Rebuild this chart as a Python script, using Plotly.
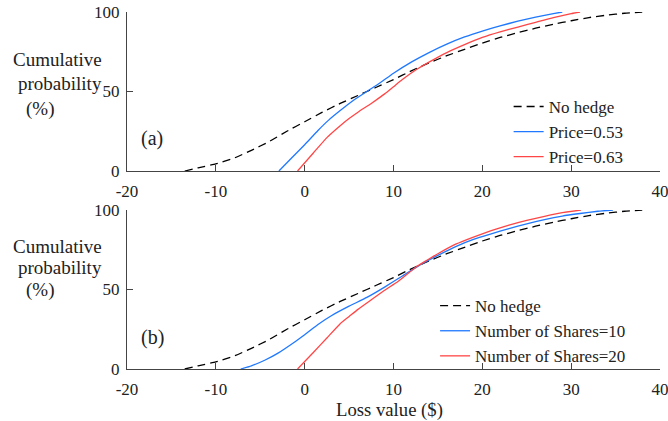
import plotly.graph_objects as go

# ---- data ----
nohedge_x = [-13.5, -12, -10, -8, -6, -4, -2, 0, 2, 4, 6, 8, 10, 12, 14, 16, 18, 20, 22, 24, 26, 28, 30, 32, 34, 36, 38]
nohedge_y = [0, 2, 4.5, 8, 13, 18.5, 25, 31, 37, 42.5, 47.5, 52.5, 57.5, 63, 68, 72.5, 76.5, 80.5, 84, 87, 89.8, 92.3, 94.5, 96.5, 98, 99.2, 100]

p053_x = [-2.9, -1.5, 0, 1.5, 2.7, 4, 5.5, 7, 8.5, 10, 12, 14, 16, 18, 20, 22, 24, 26, 28, 29]
p053_y = [0, 8, 16.5, 25.5, 32, 38, 44.5, 50, 55.5, 61.5, 68.5, 74.5, 79.8, 84.3, 88, 91.3, 94.2, 96.8, 99, 100]

p063_x = [-0.8, 1, 2.5, 4, 5, 6, 7.5, 9, 10, 11, 12.5, 14, 16, 18, 20, 22, 24, 26, 28, 30, 31]
p063_y = [0, 11.5, 21, 28.5, 33, 37, 42.5, 48.5, 53, 57.5, 63.5, 68.5, 74.5, 79.5, 84, 87.5, 90.5, 93.5, 96.5, 99, 100]

s10_x = [-7.2, -6, -4.5, -3, -1, 0, 1.5, 3, 5, 7, 9, 11, 13, 15, 17, 19, 21, 23, 25, 27, 29, 31, 33, 34.7]
s10_y = [0, 2, 5.5, 10, 17.5, 21.5, 28, 33.5, 39.5, 45, 51.5, 58.5, 65.5, 71.5, 77, 81.5, 85, 88.3, 91.3, 94, 96.2, 97.8, 99.2, 100]

s20_x = [-0.8, 1, 2.5, 4, 5, 6, 7.5, 9, 10.5, 12.5, 13.5, 15, 17, 19, 21, 23, 25, 27, 29, 31.1]
s20_y = [0, 10.5, 19.5, 28.5, 33, 37.5, 43.5, 49.5, 55, 64, 67.5, 72.5, 78.5, 83, 87, 90.5, 93.5, 96, 98.3, 100]

x_ticks = [-20, -10, 0, 10, 20, 30, 40]
x_ticktext = ["-20", "-10", "0", "10", "20", "30", "40"]
y_ticks = [0, 50, 100]
y_ticktext = ["0", "50", "100"]

BLUE = "#1f78ff"
RED = "#ff4646"
FONT = "Liberation Serif, Times New Roman, serif"
AXC = "#444444"
TXT = "#222222"

fig = go.Figure()

def add(x, y, name, color, dash, xa, ya, leg):
    fig.add_trace(go.Scatter(
        x=x, y=y, name=name, mode="lines",
        line=dict(color=color, width=1.3, dash=dash, shape="spline", smoothing=0.4),
        xaxis=xa, yaxis=ya, legend=leg, cliponaxis=False,
    ))

add(nohedge_x, nohedge_y, "No hedge", "black", "8px,5px", "x", "y", "legend")
add(p053_x, p053_y, "Price=0.53", BLUE, "solid", "x", "y", "legend")
add(p063_x, p063_y, "Price=0.63", RED, "solid", "x", "y", "legend")
add(nohedge_x, nohedge_y, "No hedge", "black", "8px,5px", "x2", "y2", "legend2")
add(s10_x, s10_y, "Number of Shares=10", BLUE, "solid", "x2", "y2", "legend2")
add(s20_x, s20_y, "Number of Shares=20", RED, "solid", "x2", "y2", "legend2")

axis_common = dict(
    showline=True, linecolor=AXC, linewidth=1, mirror=False,
    ticks="inside", ticklen=6, tickcolor=AXC, tickwidth=1,
    showgrid=False, zeroline=False, ticklabeloverflow="allow", automargin=False,
    tickfont=dict(family=FONT, size=17, color=TXT),
)
xaxis_extra = dict(ticklabelstandoff=5)
yaxis_extra = dict(ticklabelstandoff=3)

top_dom = [0.5546, 1.0]
bot_dom = [0.0, 0.4454]

fig.update_layout(
    width=668, height=421,
    margin=dict(l=127, r=8, t=12, b=52, autoexpand=False),
    paper_bgcolor="white", plot_bgcolor="white",
    font=dict(family=FONT, size=17, color=TXT),
    showlegend=True,
    xaxis=dict(domain=[0, 1], anchor="y", range=[-20, 40], tickvals=x_ticks, ticktext=x_ticktext, **axis_common, **xaxis_extra),
    yaxis=dict(domain=top_dom, anchor="x", range=[0, 100], tickvals=y_ticks, ticktext=y_ticktext, **axis_common, **yaxis_extra),
    xaxis2=dict(domain=[0, 1], anchor="y2", range=[-20, 40], tickvals=x_ticks, ticktext=x_ticktext, **axis_common, **xaxis_extra),
    yaxis2=dict(domain=bot_dom, anchor="x2", range=[0, 100], tickvals=y_ticks, ticktext=y_ticktext, **axis_common, **yaxis_extra),
    legend=dict(x=0.716, y=0.7845, xanchor="left", yanchor="top", bgcolor="rgba(0,0,0,0)",
                font=dict(family=FONT, size=17, color=TXT), tracegroupgap=0, itemwidth=30),
    legend2=dict(x=0.578, y=0.2266, xanchor="left", yanchor="top", bgcolor="rgba(0,0,0,0)",
                 font=dict(family=FONT, size=17, color=TXT), tracegroupgap=0, itemwidth=30),
    hovermode=False,
)

def ann(text, x, y, xref="paper", yref="paper", size=19, xanchor="left"):
    fig.add_annotation(text=text, x=x, y=y, xref=xref, yref=yref, showarrow=False,
                       xanchor=xanchor, yanchor="middle",
                       font=dict(family=FONT, size=size, color=TXT))

# y labels (top)
ann("Cumulative", -0.2175, 0.866)
ann("probability", -0.2085, 0.800)
ann("(%)", -0.1925, 0.729)
# y labels (bottom)
ann("Cumulative", -0.2175, 0.343)
ann("probability", -0.2085, 0.284)
ann("(%)", -0.1925, 0.222)
# panel tags
ann("(a)", -18.7, 20.5, xref="x", yref="y", size=20)
ann("(b)", -18.6, 19.5, xref="x2", yref="y2", size=20)
# x label
ann("Loss value ($)", 0.4934, -0.115, xanchor="center", size=18.7)

fig.write_html("out.html", config={"displayModeBar": False})
